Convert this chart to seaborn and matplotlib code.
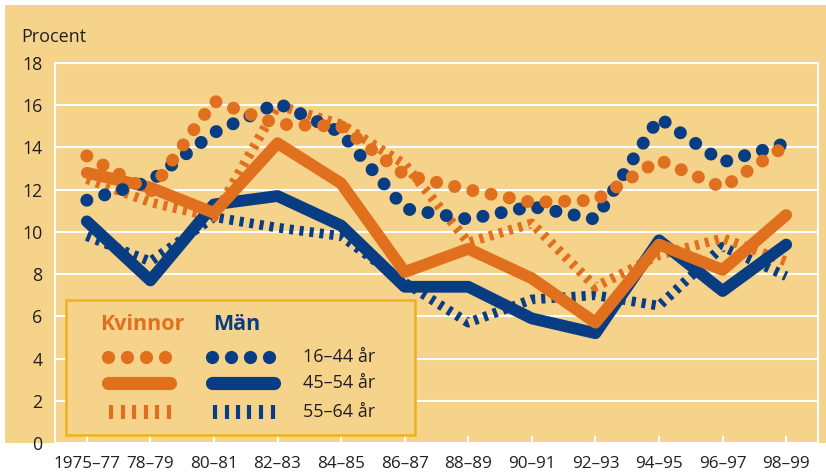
import matplotlib
matplotlib.use("Agg")
import matplotlib.pyplot as plt
import seaborn as sns
from matplotlib.patches import Rectangle
from matplotlib.lines import Line2D

# Two-year periods on the x axis
periods = ["1975–77", "78–79", "80–81", "82–83", "84–85", "86–87",
           "88–89", "90–91", "92–93", "94–95", "96–97", "98–99"]

# Share (per cent) by sex and age group
kvinnor_16_44 = [13.6, 11.9, 16.2, 15.1, 15.0, 12.7, 12.0, 11.4, 11.5, 13.4, 12.1, 14.1]
kvinnor_45_54 = [12.8, 12.1, 10.9, 14.2, 12.3, 8.1, 9.2, 7.8, 5.7, 9.4, 8.2, 10.8]
kvinnor_55_64 = [12.5, 11.4, 10.7, 16.0, 15.1, 13.2, 9.5, 10.4, 7.4, 8.9, 9.7, 8.6]
man_16_44 = [11.5, 12.4, 14.7, 16.1, 14.7, 11.1, 10.6, 11.2, 10.6, 15.4, 13.3, 14.2]
man_45_54 = [10.5, 7.7, 11.3, 11.7, 10.3, 7.4, 7.4, 5.9, 5.2, 9.6, 7.2, 9.4]
man_55_64 = [9.8, 8.6, 10.7, 10.2, 9.8, 7.6, 5.7, 6.8, 7.0, 6.5, 9.3, 7.9]

age_groups = ["16–44 år", "45–54 år", "55–64 år"]
sex_labels = ["Kvinnor", "Män"]
y_ticks = list(range(0, 19, 2))

BG = "#F6D38B"
ORANGE = "#E1701E"
BLUE = "#083D84"
FRAME = "#EDB31D"
INK = "#231F20"

sns.set_style("white")
plt.rcParams["font.family"] = ["Open Sans", "DejaVu Sans"]

W, H = 826, 475
fig = plt.figure(figsize=(W / 100, H / 100), dpi=100, facecolor="white")
fig.patches.append(Rectangle((5 / W, 32 / H), 1 - 5 / W, 438 / H,
                             transform=fig.transFigure, facecolor=BG,
                             edgecolor="none", zorder=-10))

AX_L, AX_R, AX_T, AX_B = 55, 818, 63, 443
ax = fig.add_axes([AX_L / W, (H - AX_B) / H, (AX_R - AX_L) / W, (AX_B - AX_T) / H])
ax.set_facecolor(BG)

styles = {
    "dotted": dict(lw=9.3, pattern=(0.01, 1.43), cap="round"),
    "solid": dict(lw=8.5, pattern=None, cap="round"),
    "dashed": dict(lw=7.0, pattern=(0.42, 0.62), cap="butt"),
}

series = [
    (man_55_64, BLUE, "dashed"),
    (kvinnor_55_64, ORANGE, "dashed"),
    (man_45_54, BLUE, "solid"),
    (kvinnor_45_54, ORANGE, "solid"),
    (man_16_44, BLUE, "dotted"),
    (kvinnor_16_44, ORANGE, "dotted"),
]

for values, color, kind in series:
    st = styles[kind]
    sns.lineplot(x=periods, y=values, ax=ax, color=color, sort=False,
                 linewidth=st["lw"], zorder=3)
    line = ax.lines[-1]
    line.set_solid_joinstyle("round")
    line.set_dash_joinstyle("round")
    if st["pattern"] is None:
        line.set_linestyle("-")
        line.set_solid_capstyle(st["cap"])
    else:
        line.set_linestyle((0, st["pattern"]))
        line.set_dash_capstyle(st["cap"])

ax.set_xlim(-0.5, len(periods) - 0.5)
ax.set_ylim(0, 18)
ax.set_yticks(y_ticks)
ax.set_xticks(range(len(periods)))
ax.set_xticklabels(periods)
ax.set_xlabel("")
ax.set_ylabel("")

ax.grid(axis="y", color="white", linewidth=1.5)
ax.grid(axis="x", visible=False)
ax.set_axisbelow(True)
for side in ["left", "right", "top"]:
    ax.spines[side].set_visible(True)
    ax.spines[side].set_color("white")
    ax.spines[side].set_linewidth(1.5)
ax.spines["bottom"].set_visible(False)

ax.tick_params(axis="x", direction="in", length=5, width=1.5, color="white",
               pad=9, labelsize=12.3, labelcolor=INK, bottom=True)
ax.tick_params(axis="y", length=0, pad=9, labelsize=12.8, labelcolor=INK)

fig.text(21 / W, 1 - 37 / H, "Procent", fontsize=13, color=INK,
         ha="left", va="center")


# Legend box, laid out in pixel positions inside the axes
def axpt(px, py):
    return ((px - AX_L) / (AX_R - AX_L), (AX_B - py) / (AX_B - AX_T))


x0, y0 = axpt(66, 435)
x1, y1 = axpt(415, 300)
ax.add_patch(Rectangle((x0, y0), x1 - x0, y1 - y0, transform=ax.transAxes,
                       facecolor=BG, edgecolor=FRAME, linewidth=1.8, zorder=5))

tx, ty = axpt(100, 325)
ax.text(tx, ty, sex_labels[0], transform=ax.transAxes, fontsize=15.5,
        fontweight="bold", color=ORANGE, ha="left", va="center", zorder=6)
tx, ty = axpt(213, 325)
ax.text(tx, ty, sex_labels[1], transform=ax.transAxes, fontsize=15.5,
        fontweight="bold", color=BLUE, ha="left", va="center", zorder=6)

row_y = [357, 383, 412]
col_x = {ORANGE: 108, BLUE: 212}
for color, cx in col_x.items():
    # dots
    xs, ys = zip(*[axpt(cx + i * 19, row_y[0]) for i in range(4)])
    ax.add_line(Line2D(xs, ys, transform=ax.transAxes, linestyle="none",
                       marker="o", markersize=9.5, markeredgewidth=0,
                       color=color, zorder=6, clip_on=False))
    # solid bar
    xs, ys = zip(*[axpt(cx, row_y[1]), axpt(cx + 62, row_y[1])])
    ax.add_line(Line2D(xs, ys, transform=ax.transAxes, linewidth=9.5,
                       solid_capstyle="round", color=color, zorder=6))
    # dashes
    xs, ys = zip(*[axpt(cx + 3 + i * 11.5, row_y[2]) for i in range(6)])
    ax.add_line(Line2D(xs, ys, transform=ax.transAxes, linestyle="none",
                       marker="|", markersize=9.5, markeredgewidth=3.0,
                       color=color, zorder=6))

for label, ry in zip(age_groups, row_y):
    tx, ty = axpt(303, ry)
    ax.text(tx, ty, label, transform=ax.transAxes, fontsize=13, color=INK,
            ha="left", va="center", zorder=6)

fig.savefig("out.png", dpi=100, facecolor="white")
